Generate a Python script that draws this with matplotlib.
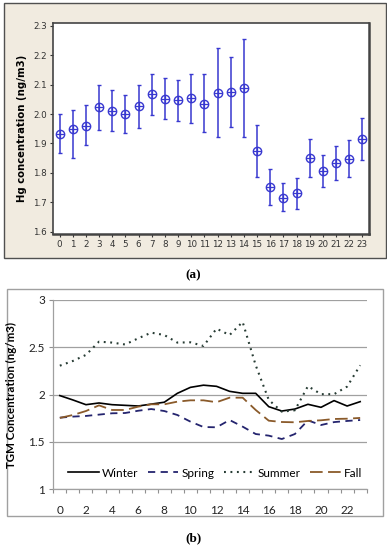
import matplotlib
matplotlib.use("Agg")
import matplotlib.pyplot as plt
from matplotlib.patches import Rectangle
import numpy as np

# ---- data: (a) hourly Hg mean with interval ----
hours = list(range(24))
hg_mean = [1.933, 1.949, 1.961, 2.024, 2.010, 2.001, 2.026, 2.070, 2.052, 2.047,
           2.055, 2.034, 2.072, 2.075, 2.089, 1.875, 1.752, 1.716, 1.730, 1.851,
           1.807, 1.834, 1.847, 1.914]
hg_low = [1.866, 1.851, 1.894, 1.946, 1.941, 1.934, 1.954, 1.998, 1.983, 1.975,
          1.969, 1.940, 1.923, 1.956, 1.923, 1.787, 1.692, 1.669, 1.676, 1.787,
          1.753, 1.775, 1.787, 1.843]
hg_high = [2.000, 2.015, 2.031, 2.100, 2.081, 2.065, 2.100, 2.138, 2.123, 2.116,
           2.136, 2.136, 2.224, 2.195, 2.256, 1.964, 1.814, 1.764, 1.784, 1.914,
           1.862, 1.893, 1.911, 1.986]

# ---- data: (b) seasonal TGM diurnal cycle ----
winter = [1.99, 1.944, 1.894, 1.912, 1.894, 1.887, 1.88, 1.90, 1.92, 2.014,
          2.077, 2.10, 2.088, 2.035, 2.014, 2.014, 1.873, 1.827, 1.848, 1.898,
          1.866, 1.937, 1.88, 1.926]
spring = [1.757, 1.768, 1.775, 1.789, 1.803, 1.806, 1.83, 1.848, 1.827, 1.785,
          1.715, 1.658, 1.655, 1.732, 1.662, 1.584, 1.567, 1.531, 1.584, 1.728,
          1.679, 1.71, 1.722, 1.732]
summer = [2.306, 2.356, 2.42, 2.56, 2.55, 2.53, 2.595, 2.655, 2.63, 2.55,
          2.553, 2.514, 2.697, 2.63, 2.768, 2.31, 1.945, 1.82, 1.835, 2.09,
          2.005, 2.005, 2.085, 2.31]
fall = [1.754, 1.785, 1.827, 1.887, 1.838, 1.838, 1.873, 1.898, 1.898, 1.926,
        1.94, 1.94, 1.92, 1.968, 1.968, 1.838, 1.725, 1.711, 1.708, 1.722,
        1.729, 1.743, 1.746, 1.754]
season_names = ['Winter', 'Spring', 'Summer', 'Fall']

W, H = 387, 550
fig = plt.figure(figsize=(W / 100, H / 100), dpi=100)
fig.patch.set_facecolor('white')

def fx(px):
    return px / W

def fy(py):
    return 1 - py / H

# beige frame of panel (a)
fig.patches.append(Rectangle((fx(4), fy(258)), fx(382), 255 / H, transform=fig.transFigure,
                             facecolor='#F1EBE0', edgecolor='#505050', lw=1.0, zorder=-5))

ax1 = fig.add_axes([fx(53), fy(234), fx(316), (234 - 22.7) / H])
ax1.set_facecolor('white')
blue = '#3838D0'
m = np.array(hg_mean)
yerr = [m - np.array(hg_low), np.array(hg_high) - m]
ax1.errorbar(hours, hg_mean, yerr=yerr, fmt='none', ecolor=blue, elinewidth=1.1,
             capsize=1.6, capthick=1.0)
ax1.plot(hours, hg_mean, 'o', mfc='none', mec=blue, ms=6.0, mew=1.0)
ax1.plot(hours, hg_mean, '+', color=blue, ms=6.0, mew=0.9)
ax1.set_xlim(-0.5, 23.5)
ax1.set_ylim(1.592, 2.311)
ax1.set_xticks(hours)
ax1.set_yticks([1.6, 1.7, 1.8, 1.9, 2.0, 2.1, 2.2, 2.3])
ax1.set_yticklabels(['%.1f' % v for v in [1.6, 1.7, 1.8, 1.9, 2.0, 2.1, 2.2, 2.3]])
ax1.tick_params(labelsize=6.3, colors='#333333', length=2.5, width=0.8, pad=2)
for s in ax1.spines.values():
    s.set_color('#444444')
    s.set_linewidth(1.2)
ax1.spines['right'].set_linewidth(1.8)
ax1.spines['bottom'].set_linewidth(1.8)
ax1.set_ylabel('Hg concentration (ng/m3)', fontsize=7.3, fontweight='bold', labelpad=4)

fig.text(0.5, fy(275), '(a)', ha='center', va='center', fontsize=9.5,
         fontweight='bold', family='Liberation Serif')

# white frame of panel (b)
fig.patches.append(Rectangle((fx(7), fy(515.7)), fx(375.7), 226.7 / H, transform=fig.transFigure,
                             facecolor='white', edgecolor='#A0A0A0', lw=1.0, zorder=-5))

ax2 = fig.add_axes([fx(53.3), fy(489.3), fx(313.4), 189.3 / H])
ax2.set_facecolor('none')
ax2.plot(hours, winter, color='black', lw=1.2, label=season_names[0])
ax2.plot(hours, spring, color='#24246E', lw=1.3, dashes=(4, 3), label=season_names[1])
ax2.plot(hours, summer, color='#263B33', lw=1.5, dashes=(0.9, 2.2), label=season_names[2])
ax2.plot(hours, fall, color='#8A5A2A', lw=1.3, dashes=(7, 3), label=season_names[3])
ax2.set_xlim(-0.5, 23.5)
ax2.set_ylim(1, 3)
ax2.set_yticks([1, 1.5, 2, 2.5, 3])
ax2.set_yticklabels(['1', '1.5', '2', '2.5', '3'], family='Lato')
ax2.yaxis.grid(True, color='#A0A0A0', lw=0.9)
ax2.set_axisbelow(True)
ax2.set_xticks(np.arange(0, 24, 2))
ax2.set_xticklabels([str(v) for v in range(0, 24, 2)], family='Lato')
ax2.set_xticks(np.arange(-0.5, 24, 1), minor=True)
ax2.tick_params(axis='x', which='major', length=0, pad=11, labelsize=8.5, labelcolor='#222222')
ax2.tick_params(axis='x', which='minor', length=3, width=0.8, color='#909090', direction='out')
ax2.tick_params(axis='y', length=3, width=0.8, color='#909090', labelsize=8.5,
                labelcolor='#222222', pad=3)
for k in ['top', 'right']:
    ax2.spines[k].set_visible(False)
for k in ['left', 'bottom']:
    ax2.spines[k].set_color('#A0A0A0')
    ax2.spines[k].set_linewidth(0.9)
ax2.set_ylabel('TGM Concentration (ng/m3)', fontsize=8.3, fontweight='bold',
               family='Lato', labelpad=8)
leg = ax2.legend(loc='center', bbox_to_anchor=(0.516, 0.086), ncol=4, frameon=False,
                 prop={'family': 'Lato', 'size': 8.5}, handlelength=2.6, handletextpad=0.25,
                 columnspacing=0.8, borderaxespad=0, borderpad=0)

fig.text(0.5, fy(538), '(b)', ha='center', va='center', fontsize=9.5,
         fontweight='bold', family='Liberation Serif')

fig.savefig('out.png', dpi=100)
